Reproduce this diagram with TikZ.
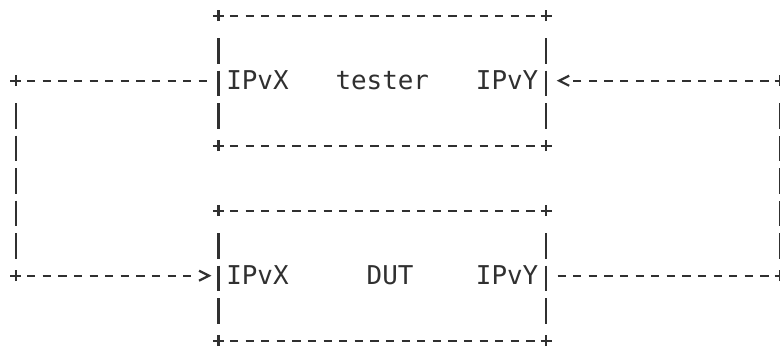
\documentclass[tikz,border=0pt]{standalone}
\usepackage{fontspec}
\setmonofont{DejaVu Sans Mono}
\usepackage{tikz}
\usetikzlibrary{arrows.meta,positioning}
\definecolor{ink}{HTML}{303030}

\begin{document}
\begin{tikzpicture}[x=15.6pt,y=-32.5pt,color=ink,line width=2.2pt,
		hdash/.style={dash pattern=on 8.3pt off 7.3pt},
		vdash/.style={dash pattern=on 25.5pt off 7pt},
		joint/.style={solid},
		arrowhead/.style={dash pattern=on 0pt off 80pt,-{Straight Barb[length=10pt,width=10pt]}}]
	\tikzstyle{every node}=[inner sep=0pt,outer sep=0pt,font=\ttfamily\fontsize{25.9}{32.5}\selectfont]
	\tikzstyle{box}=[minimum width=327.6pt,minimum height=130pt]
	\useasboundingbox (-1.006,-0.483) rectangle (48.994,10.286);

	\node[box]			(tester)	at (23.5,2)	{};
	\node[box,below=65pt of tester]	(dut)		{};

	\node[anchor=base west]	(txl)	at ([xshift=7.8pt,yshift=-9.3pt]tester.west)	{IPvX};
	\node[anchor=base]	(tname)	at ([yshift=-9.3pt]tester.center)		{tester};
	\node[anchor=base east]	(tyl)	at ([xshift=-7.8pt,yshift=-9.3pt]tester.east)	{IPvY};
	\node[anchor=base west]	(dxl)	at ([xshift=7.8pt,yshift=-9.3pt]dut.west)	{IPvX};
	\node[anchor=base]	(dname)	at ([xshift=7.8pt,yshift=-9.3pt]dut.center)	{DUT};
	\node[anchor=base east]	(dyl)	at ([xshift=-7.8pt,yshift=-9.3pt]dut.east)	{IPvY};

	\coordinate (lt) at (0,2);
	\coordinate (lb) at (0,8);
	\coordinate (rt) at (49,2);
	\coordinate (rb) at (49,8);

	\foreach \b in {tester,dut}{
		\draw[hdash] ([xshift=-4.15pt]\b.north west) -- ([xshift=4.15pt]\b.north east);
		\draw[hdash] ([xshift=-4.15pt]\b.south west) -- ([xshift=4.15pt]\b.south east);
		\draw[vdash] ([yshift=-22.35pt]\b.north west) -- ([yshift=17.15pt]\b.south west);
		\draw[vdash] ([yshift=-22.35pt]\b.north east) -- ([yshift=17.15pt]\b.south east);
		\foreach \c in {north west,north east,south west,south east}
			\draw[joint] ([xshift=-5.5pt]\b.\c) -- ([xshift=5.5pt]\b.\c)
				([yshift=-5.5pt]\b.\c) -- ([yshift=5.5pt]\b.\c);
	}

	\draw[hdash] ([xshift=-4.15pt]lt) -- ([xshift=-11.45pt]tester.west);
	\draw[vdash] ([yshift=-22.35pt]lt) -- ([yshift=17.15pt]lb);
	\draw[hdash] ([xshift=-4.15pt]lb) -- ([xshift=-27.05pt]dut.west);
	\draw[arrowhead] ([xshift=-27.05pt]dut.west) -- ([xshift=-7pt]dut.west);

	\draw[hdash] ([xshift=4.15pt]rt) -- ([xshift=27.05pt]tester.east);
	\draw[arrowhead] ([xshift=27.05pt]tester.east) -- ([xshift=10.6pt]tester.east);
	\draw[hdash] ([xshift=11.45pt]dut.east) -- ([xshift=4.15pt]rb);
	\draw[vdash] ([yshift=-22.35pt]rt) -- ([yshift=17.15pt]rb);

	\foreach \p in {lt,lb,rt,rb}
		\draw[joint] ([xshift=-5.5pt]\p) -- ([xshift=5.5pt]\p)
			([yshift=-5.5pt]\p) -- ([yshift=5.5pt]\p);
\end{tikzpicture}
\end{document}
